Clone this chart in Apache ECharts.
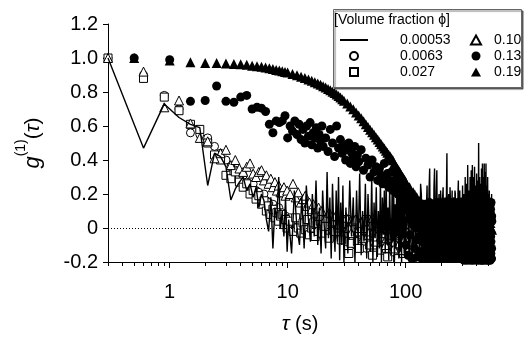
<!DOCTYPE html>
<html><head><meta charset="utf-8">
<script src="https://cdn.jsdelivr.net/npm/echarts@6/dist/echarts.min.js"></script>
<style>html,body{margin:0;padding:0;background:#fff}#c{width:524px;height:340px}</style>
</head><body><div id="c"></div>
<script>
// ---- axis ticks ----
const tauMajorTicks = [1, 10, 100];
const tauMinorTicks = [0.3,0.4,0.5,0.6,0.7,0.8,0.9,2,3,4,5,6,7,8,9,20,30,40,50,60,70,80,90,200,300,400,500];
const seriesNames = ['0.00053', '0.0063', '0.027', '0.10', '0.13', '0.19'];

// ---- phi = 0.00053 (solid line) ----
const phi00053 = [
[0.3,1.0],[0.6,0.47],[0.9,0.73],[1.2,0.65],[1.5,0.61],[1.8,0.59],[2.1,0.25],[2.4,0.44],[2.7,0.42],[3.0,0.36],
[3.3,0.165],[3.6,0.23],[3.9,0.27],[4.2,0.30],[4.5,0.22],[4.8,0.26],[5.1,0.18],[5.4,0.24],[5.7,0.12],[6.0,0.20],
[6.3,0.16],[6.6,0.05],[6.9,-0.02],[7.2,0.18],[7.5,-0.12],[7.8,0.12],[8.1,0.05],[8.4,0.30],[8.7,0.0],[9.0,0.1],
[9.3,-0.05],[9.6,0.18],[9.9,-0.14],
[10.2,0.05],[10.8,-0.15],[11.4,0.22],[12.0,0.0],[12.6,-0.1],[13.2,0.18],[13.8,-0.12],[14.4,0.25],[15.0,0.05],[15.6,-0.08],
[16.2,0.2],[16.8,-0.05],[17.4,0.28],[18.0,-0.1],[18.6,0.12],[19.2,-0.15],[19.8,0.22],[20.4,0.02],[21.0,-0.12],[21.6,0.33],
[22.2,-0.06],[22.8,0.18],[23.4,-0.18],[24.0,0.26],[24.6,0.0],[25.2,-0.14],[25.8,0.22],[26.4,-0.08],[27.0,0.3],[27.6,-0.19],
[28.2,0.15],[28.8,-0.1],[29.4,0.25],[30.0,-0.2],
[31.2,0.12],[32.4,-0.15],[33.6,0.28],[34.8,-0.05],[36.0,0.18],[37.2,-0.2],[38.4,0.22],[39.6,-0.1],[40.8,0.32],[42.0,-0.16],
[43.2,0.1],[44.4,-0.08],[45.6,0.26],[46.8,-0.18],[48.0,0.2],[49.2,0.0],[50.4,-0.14],[51.6,0.3],[52.8,-0.2],[54.0,0.15],
[55.2,-0.06],[56.4,0.24],[57.6,-0.17],[58.8,0.1],[60.0,-0.12],[61.2,0.28],[62.4,-0.2],[63.6,0.18],[64.8,-0.04],[66.0,0.22],
[67.2,-0.15],[68.4,0.3],[69.6,-0.1],[70.8,0.12],[72.0,-0.19],[73.2,0.25],[74.4,0.0],[75.6,-0.16],[76.8,0.2],[78.0,-0.08],
[79.2,0.27],[80.4,-0.2],[81.6,0.14],[82.8,-0.12],[84.0,0.23],[85.2,-0.05],[86.4,0.3],[87.6,-0.18],[88.8,0.16],[90.0,-0.14],
[91.2,0.2],[92.4,-0.2],[93.6,0.26],[94.8,-0.06],[96.0,0.18],[97.2,-0.15],[98.4,0.24],[99.6,-0.1],
[100,-0.15],[102,0.08],[104,0.18],[106,-0.1],[108,-0.2],[110,0.2],[112,0.1],[114,-0.16],[116,-0.12],[118,0.05],
[120,0.22],[122,-0.2],[124,-0.18],[126,0.1],[128,0.15],[130,-0.08],[132,-0.2],[134,0.26],[136,0.2],[138,-0.18],
[140,-0.1],[142,0.16],[144,0.12],[146,-0.2],[148,-0.19],[150,0.1],[152,0.25],[154,-0.06],[156,-0.14],[158,0.22],
[160,0.35],[162,-0.17],[164,-0.2],[166,0.12],[168,0.16],[170,-0.2],[172,-0.12],[174,0.24],[176,0.35],[178,-0.1],
[180,-0.18],[182,0.2],[184,0.34],[186,-0.15],[188,-0.2],[190,0.1],[192,0.2],[194,-0.2],[196,-0.15],[198,0.22],
[200,0.14],[202,-0.12],[204,-0.2],[206,0.18],[208,0.24],[210,-0.18],[212,-0.1],[214,0.12],[216,0.18],[218,-0.2],
[220,-0.2],[222,0.2],[224,0.44],[226,-0.12],[228,-0.16],[230,0.15],[232,0.2],[234,-0.2],[236,-0.2],[238,0.24],
[240,0.15],[242,-0.15],[244,-0.12],[246,0.1],[248,0.22],[250,-0.2],[252,-0.2],[254,0.16],[256,0.18],[258,-0.1],
[260,-0.14],[262,0.22],[264,0.2],[266,-0.18],[268,-0.2],[270,0.12],[272,0.16],[274,-0.2],[276,-0.1],[278,0.2],
[280,0.28],[282,-0.15],[284,-0.2],[286,0.1],[288,0.22],[290,-0.2],[292,-0.17],[294,0.14],[296,0.18],[298,-0.2],
[300,-0.2],[304,0.25],[308,-0.13],[312,0.2],[316,-0.2],[320,0.3],[324,-0.15],[328,0.26],[332,-0.2],[336,0.37],
[340,-0.12],[344,0.22],[348,-0.2],[352,0.3],[356,-0.16],[360,0.34],[364,-0.2],[368,0.37],[372,-0.14],[376,0.3],
[380,-0.2],[384,0.36],[388,-0.1],[392,0.25],[396,-0.2],[400,0.32],[404,-0.17],[408,0.28],[412,-0.2],[416,0.5],
[420,-0.15],[424,0.3],[428,-0.2],[432,0.26],[436,-0.12],[440,0.35],[444,-0.2],[448,0.38],[452,-0.16],[456,0.3],
[460,-0.2],[464,0.38],[468,-0.14],[472,0.33],[476,-0.2],[480,0.38],[484,-0.18],[488,0.25],[492,-0.2],[496,0.3],
[500,-0.15],[504,0.2],[508,-0.2],[512,0.22],[516,-0.1],[520,0.18],[524,-0.2],[528,0.15],[532,-0.12],[536,0.2]
];

// ---- phi = 0.0063 (open circles) ----
const phi0063 = [
[0.3,1.0],[0.6,0.90],[0.9,0.78],[1.2,0.70],[1.5,0.56],[1.8,0.55],[2.1,0.53],[2.4,0.48],[2.7,0.44],[3.0,0.40],
[3.3,0.36],[3.6,0.34],[3.9,0.30],[4.2,0.31],[4.5,0.27],[4.8,0.25],[5.1,0.26],[5.4,0.22],[5.7,0.21],[6.0,0.19],
[6.3,0.2],[6.6,0.16],[6.9,0.15],[7.2,0.13],[7.5,0.14],[7.8,0.11],[8.1,0.10],[8.4,0.12],[8.7,0.08],[9.0,0.09],
[9.3,0.06],[9.6,0.07],[9.9,0.05],
[10.5,0.06],[11.1,0.03],[11.7,0.05],[12.3,0.01],[12.9,0.03],[13.5,-0.01],[14.1,0.02],[14.7,0.0],[15.3,-0.03],[15.9,0.01],
[16.5,-0.02],[17.1,0.02],[17.7,-0.04],[18.3,0.0],[18.9,-0.02],[19.5,0.01],
[21,-0.03],[22.5,0.02],[24,-0.05],[25.5,0.0],[27,-0.02],[28.5,0.03],[30,-0.04],
[31.5,-0.08],[33,0.01],[34.5,0.03],[36,-0.06],[37.5,-0.1],[39,-0.01],[40.5,-0.03],[42,0.02],[43.5,0.04],[45,-0.05],
[46.5,-0.12],[48,0.0],[49.5,-0.02],[51,-0.03],[52.5,0.03],[54,-0.07],[55.5,-0.09],[57,0.01],[58.5,-0.05],[60,-0.04],
[61.5,0.02],[63,-0.02],[64.5,-0.13],[66,-0.08],[67.5,-0.04],[69,0.0],[70.5,0.03],[72,-0.05],[73.5,-0.1],[75,-0.02],
[76.5,-0.06],[78,-0.1],[79.5,0.0],[81,-0.03],[82.5,-0.12],[84,0.01],[85.5,-0.04],[87,-0.06],[88.5,0.02],[90,-0.12],
[91.5,-0.08],[93,-0.02],[94.5,-0.14],[96,-0.07],[97.5,-0.03],[99,0.0],[102,-0.09],[105,-0.04]
];

// ---- phi = 0.027 (open squares) ----
const phi027 = [
[0.3,1.0],[0.6,0.88],[0.9,0.77],[1.2,0.69],[1.5,0.61],[1.8,0.58],[2.1,0.50],[2.4,0.43],[2.7,0.40],[3.0,0.31],
[3.3,0.29],[3.6,0.33],[3.9,0.27],[4.2,0.24],[4.5,0.26],[4.8,0.20],[5.1,0.22],[5.4,0.17],[5.7,0.19],[6.0,0.14],
[6.3,0.16],[6.6,0.10],[6.9,0.13],[7.2,0.08],[7.5,0.11],[7.8,0.06],[8.1,0.09],[8.4,0.04],[8.7,0.07],[9.0,0.08],
[9.3,0.02],[9.6,0.05],[9.9,0.0],
[10.5,0.04],[11.1,-0.02],[11.7,0.06],[12.3,0.0],[12.9,-0.03],[13.5,0.03],[14.1,-0.01],[14.7,0.05],[15.3,-0.04],[15.9,0.0],
[16.5,0.03],[17.1,-0.05],[17.7,0.02],[18.3,-0.02],[18.9,0.04],[19.5,-0.03],
[21,0.01],[22.5,-0.06],[24,0.03],[25.5,-0.02],[27,0.0],[28.5,-0.07],[30,0.02],
[31.5,0.05],[33,-0.15],[34.5,-0.09],[36,0.04],[37.5,0.0],[39,-0.08],[40.5,-0.12],[42,-0.01],[43.5,-0.04],[45,0.03],
[46.5,0.05],[48,-0.06],[49.5,-0.1],[51,-0.02],[52.5,-0.16],[54,0.02],[55.5,0.0],[57,-0.1],[58.5,-0.06],[60,-0.03],
[61.5,-0.13],[63,0.01],[64.5,0.03],[66,-0.05],[67.5,-0.08],[69,-0.12],[70.5,-0.17],[72,-0.02],[73.5,-0.04],[75,0.02],
[76.5,0.01],[78,-0.07],[79.5,-0.11],[81,-0.14],[82.5,-0.06],[84,-0.04],[85.5,-0.18],[87,0.0],[88.5,-0.02],[90,-0.09],
[91.5,-0.13],[93,-0.05],[94.5,0.0],[96,-0.15],[97.5,-0.09],[99,-0.03],[102,-0.08],[105,-0.12]
];

// ---- phi = 0.10 (open triangles) ----
const phi010 = [
[0.3,1.0],[0.6,0.92],[0.9,0.71],[1.2,0.75],[1.5,0.615],[1.8,0.53],[2.1,0.51],[2.4,0.41],[2.7,0.44],[3.0,0.46],
[3.3,0.37],[3.6,0.40],[3.9,0.35],[4.2,0.33],[4.5,0.36],[4.8,0.38],[5.1,0.32],[5.4,0.30],[5.7,0.33],[6.0,0.34],
[6.3,0.28],[6.6,0.31],[6.9,0.26],[7.2,0.29],[7.5,0.24],[7.8,0.27],[8.1,0.22],[8.4,0.25],[8.7,0.21],[9.0,0.21],
[9.3,0.24],[9.6,0.19],[9.9,0.22],
[10.5,0.20],[11.1,0.26],[11.7,0.18],[12.3,0.21],[12.9,0.15],[13.5,0.17],[14.1,0.19],[14.7,0.13],[15.3,0.15],[15.9,0.11],
[16.5,0.14],[17.1,0.09],[17.7,0.11],[18.3,0.12],[18.9,0.07],[19.5,0.1],
[21,0.06],[22.5,0.09],[24,0.04],[25.5,0.07],[27,0.02],[28.5,0.05],[30,0.03],
[31.5,0.06],[33,0.0],[34.5,-0.03],[36,0.04],[37.5,0.05],[39,-0.02],[40.5,0.0],[42,0.03],[43.5,-0.06],[45,0.0],
[46.5,0.04],[48,-0.04],[49.5,-0.02],[51,0.02],[52.5,0.06],[54,-0.01],[55.5,-0.08],[57,-0.05],[58.5,0.02],[60,0.01],
[61.5,-0.05],[63,-0.03],[64.5,0.05],[66,0.0],[67.5,-0.1],[69,-0.06],[70.5,0.0],[72,-0.01],[73.5,-0.06],[75,-0.04],
[76.5,0.03],[78,0.02],[79.5,-0.12],[81,-0.08],[82.5,-0.03],[84,-0.02],[85.5,0.02],[87,-0.05],[88.5,-0.09],[90,0.0],
[91.5,-0.04],[93,-0.1],[94.5,-0.13],[96,-0.03],[97.5,0.0],[99,-0.06],[102,-0.02],[105,-0.08]
];

// ---- phi = 0.13 (filled circles) ----
const phi013 = [
[0.5,1.0],[1.0,0.99],[1.5,0.745],[2.0,0.75],[2.5,0.835],[3.0,0.745],[3.5,0.74],[4.0,0.77],[4.5,0.78],[5.0,0.70],
[5.5,0.71],[6.0,0.705],[6.5,0.685],[7.0,0.61],[7.5,0.56],[8.0,0.63],[8.5,0.62],[9.0,0.63],[9.5,0.66],[10.0,0.53],
[10.5,0.6],[11,0.57],[11.5,0.63],[12,0.55],[12.5,0.61],[13,0.52],[13.5,0.58],[14,0.5],[14.5,0.6],[15,0.54],
[15.5,0.62],[16,0.49],[16.5,0.56],[17,0.53],[17.5,0.59],[18,0.47],[18.5,0.55],[19,0.51],[19.5,0.6],[20,0.48],
[21,0.53],[22,0.45],[23,0.58],[24,0.5],[25,0.42],[26,0.6],[27,0.47],[28,0.52],[29,0.44],[30,0.49],
[31,0.4],[32,0.46],[33,0.5],[34,0.38],[35,0.44],[36,0.41],[37,0.48],[38,0.36],[39,0.43],[40,0.39],
[42,0.46],[44,0.34],[46,0.41],[48,0.37],[50,0.3],[52,0.4],[54,0.33],[56,0.36],[58,0.28],[60,0.35],
[62,0.31],[64,0.26],[66,0.38],[68,0.29],[70,0.32],[72,0.24],[74,0.28],[76,0.33],[78,0.22],[80,0.27],
[82,0.25],[84,0.3],[86,0.2],[88,0.26],[90,0.22],[92,0.18],[94,0.24],[96,0.2],[98,0.16],[100,0.22],
[102,0.18],[104,0.15],[106,0.1],[108,0.2],[110,0.14],[112,0.12],[114,0.06],[116,0.17],[118,0.12],[120,0.08],
[122,0.0],[124,0.14],[126,0.09],[128,0.05],[130,-0.05],[132,0.12],[134,0.07],[136,0.02],[138,-0.08],[140,0.1],
[142,0.12],[144,-0.03],[146,-0.12],[148,0.08],[150,0.03],[152,-0.06],[154,0.11],[156,0.06],[158,-0.15],[160,-0.1],
[162,0.0],[164,0.1],[166,0.14],[168,-0.04],[170,-0.11],[172,0.05],[174,0.08],[176,-0.13],[178,-0.17],[180,0.12],
[182,0.04],[184,-0.08],[186,0.13],[188,0.02],[190,-0.06],[192,-0.16],[194,0.1],[196,0.08],[198,-0.18],[200,-0.02],
[202,0.06],[204,0.13],[206,0.0],[208,-0.1],[210,0.14],[212,0.04],[214,-0.13],[216,-0.17],[218,0.08],[220,0.1],
[222,-0.02],[224,-0.06],[226,-0.16],[228,0.14],[230,0.11],[232,-0.12],[234,-0.08],[236,0.0],[238,0.15],[240,-0.18],
[242,-0.12],[244,0.09],[246,0.03],[248,-0.04],[250,-0.18],[252,0.15],[254,0.09],[256,-0.14],[258,0.0],[260,0.05],
[262,-0.15],[264,-0.09],[266,0.13],[268,0.12],[270,-0.04],[272,-0.18],[274,0.1],[276,0.02],[278,-0.16],[280,-0.06],
[282,0.05],[284,0.14],[286,-0.1],[288,-0.12],[290,0.15],[292,0.07],[294,-0.03],[296,-0.17],[298,-0.18],[300,0.1],
[302,0.12],[304,-0.02],[306,-0.14],[308,0.15],[310,0.04],[312,-0.1],[314,0.13],[316,0.03],[318,-0.08],[320,-0.18],
[322,-0.17],[324,0.12],[326,0.09],[328,-0.07],[330,-0.12],[332,0.06],[334,0.15],[336,-0.14],[338,0.0],[340,0.14],
[342,-0.18],[344,-0.04],[346,0.1],[348,0.08],[350,-0.07],[352,-0.18],[354,0.14],[356,0.11],[358,-0.15],[360,-0.1],
[362,0.06],[364,0.02],[366,-0.02],[368,-0.15],[370,-0.18],[372,0.13],[374,0.11],[376,-0.06],[378,-0.12],[380,0.07],
[382,0.15],[384,-0.18],[386,0.0],[388,0.14],[390,-0.16],[392,-0.11],[394,0.08],[396,0.03],[398,-0.08],[400,-0.16],
[402,0.14],[404,0.1],[406,-0.18],[408,-0.05],[410,0.02],[412,0.15],[414,0.1],[416,-0.13],[418,-0.1],[420,0.06],
[422,0.15],[424,-0.18],[426,-0.15],[428,0.11],[430,0.04],[432,-0.08],[434,-0.05],[436,0.14],[438,0.12],[440,-0.15],
[442,-0.18],[444,0.04],[446,0.08],[448,-0.1],[450,-0.12],[452,0.12],[454,0.15],[456,-0.18],[458,0.0],[460,0.07],
[462,-0.16],[464,-0.05],[466,0.1],[468,0.15],[470,-0.07],[472,-0.14],[474,0.14],[476,0.09],[478,-0.13],[480,-0.18],
[482,0.06],[484,0.02],[486,-0.18],[488,-0.09],[490,0.11],[492,0.13],[494,-0.02],[496,-0.16],[498,0.15],[500,0.08],
[502,-0.14],[504,-0.04],[506,0.03],[508,0.12],[510,-0.1],[512,-0.18],[514,0.13],[516,0.05],[518,-0.17],[520,-0.1],
[522,0.09],[524,0.14],[526,-0.05],[528,-0.15],[530,0.15],[532,0.06],[534,-0.18],[536,-0.12],[538,0.04],
[101,-0.1],[103,0.12],[105,-0.16],[107,0.05],[109,-0.04],[111,0.16],[113,-0.18],[115,0.02],[117,0.1],[119,-0.12],
[121,0.13],[123,-0.07],[125,-0.17],[127,0.04],[129,0.15],[131,-0.14],[133,0.0],[135,0.11],[137,-0.18],[139,0.06],
[141,-0.05],[143,0.14],[145,-0.16],[147,0.01],[149,0.12],[151,-0.11],[153,-0.18],[155,0.09],[157,0.0],[159,0.15],
[161,-0.13],[163,-0.06],[165,0.05],[167,-0.18],[169,0.12],[171,0.02],[173,-0.15],[175,0.14],[177,-0.02],[179,-0.1],
[181,0.08],[183,-0.18],[185,0.15],[187,-0.12],[189,0.04],[191,0.11],[193,-0.08],[195,-0.17],[197,0.14],[199,0.0],
[201,-0.14],[203,0.09],[205,-0.05],[207,0.15],[209,-0.18],[211,0.02],[213,0.12],[215,-0.1],[217,-0.16],[219,0.05],
[221,0.14],[223,-0.13],[225,0.0],[227,0.1],[229,-0.18],[231,-0.04],[233,0.15],[235,-0.1],[237,0.06],[239,-0.16],
[241,0.12],[243,-0.02],[245,-0.18],[247,0.14],[249,0.03],[251,-0.12],[253,0.09],[255,-0.06],[257,0.15],[259,-0.17],
[261,0.01],[263,0.12],[265,-0.14],[267,-0.03],[269,0.14],[271,-0.18],[273,0.07],[275,-0.09],[277,0.15],[279,-0.13],
[281,0.0],[283,-0.17],[285,0.11],[287,0.05],[289,-0.08],[291,-0.15],[293,0.14],[295,0.02],[297,-0.12],[299,0.1],
[301,-0.17],[305,-0.08],[309,0.1],[313,-0.19],[317,-0.12],[321,0.05],[325,-0.16],[329,-0.03],[333,-0.19],[337,0.12],
[341,-0.1],[345,-0.18],[349,0.0],[353,-0.14],[357,-0.19],[361,0.13],[365,-0.07],[369,-0.17],[373,0.04],[377,-0.19],
[381,-0.11],[385,0.1],[389,-0.18],[393,-0.04],[397,-0.15],[401,0.12],[405,-0.19],[409,-0.09],[413,0.06],[417,-0.17],
[421,-0.12],[425,0.13],[429,-0.19],[433,-0.02],[437,-0.16],[441,0.09],[445,-0.19],[449,-0.07],[453,0.03],[457,-0.15],
[461,-0.19],[465,0.12],[469,-0.1],[473,-0.18],[477,0.0],[481,-0.14],[485,0.14],[489,-0.19],[493,-0.06],[497,-0.17],
[501,0.1],[505,-0.19],[509,-0.12],[513,0.04],[517,-0.16],[521,-0.19],[525,0.11],[529,-0.08],[533,-0.18],[537,0.07]
];

// ---- phi = 0.19 (filled triangles) ----
const phi019 = [
[0.5,1.0],[1.0,0.985],[1.5,0.975],[2.0,0.97],[2.5,0.97],[3.0,0.967],[3.5,0.965],[4.0,0.963],[4.5,0.96],[5.0,0.955],
[5.5,0.952],[6.0,0.948],[6.5,0.944],[7.0,0.94],[7.5,0.935],[8.0,0.93],[8.5,0.926],[9.0,0.922],[9.5,0.918],[10,0.914],
[11,0.906],[12,0.898],[13,0.89],[14,0.882],[15,0.874],[16,0.866],[17,0.858],[18,0.85],[19,0.842],[20,0.834],
[21,0.826],[22,0.818],[23,0.81],[24,0.802],[25,0.794],[26,0.785],[27,0.776],[28,0.767],[29,0.758],[30,0.749],
[32,0.732],[34,0.715],[36,0.698],[38,0.68],[40,0.662],[42,0.645],[44,0.628],[46,0.611],[48,0.594],[50,0.578],
[52,0.563],[54,0.548],[56,0.534],[58,0.52],[60,0.506],[62,0.493],[64,0.48],[66,0.467],[68,0.455],[70,0.443],
[72,0.431],[74,0.42],[76,0.409],[78,0.398],[80,0.38],[82,0.368],[84,0.356],[86,0.345],[88,0.334],[90,0.323],
[92,0.312],[94,0.302],[96,0.292],[98,0.282],[100,0.272],
[108,0.24],[116,0.21],[124,0.183],[132,0.16],[140,0.14],[148,0.122],[156,0.106],[164,0.092],[172,0.08],[180,0.07],
[188,0.06],[196,0.052],[204,0.045],[212,0.04],[220,0.035],[228,0.03],[236,0.027],[244,0.024],[252,0.021],[260,0.019],
[268,0.03],[276,-0.01],[284,0.04],[292,0.0],[300,0.03],[308,-0.02],[316,0.02],[324,0.05],[332,-0.01],[340,0.03],
[348,0.0],[356,-0.03],[364,0.02],[372,0.04],[380,-0.02],[388,0.01],[396,0.03],[404,-0.03],[412,0.0],[420,0.04],
[428,-0.02],[436,0.02],[444,-0.04],[452,0.01],[460,0.03],[468,-0.02],[476,0.0],[484,0.04],[492,-0.03],[500,0.01],
[508,0.02],[516,-0.02],[524,0.03],[532,0.0],[540,-0.01]
];

const FONT = '"Liberation Sans", Arial, Helvetica, sans-serif';
const chart = echarts.init(document.getElementById('c'), null, {renderer: 'canvas'});

const openStyle = {color: '#fff', borderColor: '#000', borderWidth: 1, opacity: 1};
const fillStyle = {color: '#000', borderColor: '#000', borderWidth: 0, opacity: 1};

const option = {
  animation: false,
  backgroundColor: '#fff',
  grid: {left: 108, right: 32, top: 24, bottom: 78, containLabel: false},
  xAxis: [
    {
      type: 'log', logBase: 10, min: 0.3, max: 540, position: 'bottom',
      name: '{t|τ} {n|(s)}', nameLocation: 'middle', nameGap: 52,
      nameTextStyle: {color: '#000', fontFamily: FONT, fontSize: 20,
        rich: {t: {fontStyle: 'italic', fontSize: 21, fontFamily: FONT, color: '#000'},
               n: {fontSize: 20, fontFamily: FONT, color: '#000'}}},
      axisLine: {show: true, onZero: false, lineStyle: {color: '#000', width: 1}},
      axisTick: {show: true, inside: false, length: 6, customValues: tauMajorTicks, lineStyle: {color: '#000', width: 1}},
      axisLabel: {show: true, customValues: tauMajorTicks, margin: 20, color: '#000', fontFamily: FONT, fontSize: 20,
                  formatter: v => String(Math.round(v))},
      splitLine: {show: false}, minorTick: {show: false}
    },
    {
      type: 'log', logBase: 10, min: 0.3, max: 540, position: 'bottom', offset: 0,
      axisLine: {show: false, onZero: false},
      axisTick: {show: true, inside: false, length: 4, customValues: tauMinorTicks, lineStyle: {color: '#000', width: 1}},
      axisLabel: {show: false}, splitLine: {show: false}
    }
  ],
  yAxis: {
    type: 'value', min: -0.2, max: 1.2, interval: 0.2,
    name: '{g|g}{s|(1)}{n|(}{t|τ}{n|)}', nameLocation: 'middle', nameRotate: 90, nameGap: 64,
    nameTextStyle: {color: '#000', fontFamily: FONT,
      rich: {g: {fontStyle: 'italic', fontSize: 22, fontFamily: FONT, color: '#000', verticalAlign: 'bottom', lineHeight: 30},
             s: {fontSize: 14, fontFamily: FONT, color: '#000', verticalAlign: 'top', lineHeight: 30},
             n: {fontSize: 21, fontFamily: FONT, color: '#000', verticalAlign: 'bottom', lineHeight: 30},
             t: {fontStyle: 'italic', fontSize: 21, fontFamily: FONT, color: '#000', verticalAlign: 'bottom', lineHeight: 30}}},
    axisLine: {show: true, onZero: false, lineStyle: {color: '#000', width: 1}},
    axisTick: {show: true, inside: false, length: 5, lineStyle: {color: '#000', width: 1}},
    axisLabel: {margin: 10, color: '#000', fontFamily: FONT, fontSize: 20,
                formatter: v => Math.abs(v) < 1e-9 ? '0' : v.toFixed(1)},
    splitLine: {show: false}
  },
  title: {
    text: '[Volume fraction ϕ]', left: 334, top: 13, padding: 0, z: 60,
    textStyle: {fontFamily: FONT, fontSize: 14, fontWeight: 'normal', color: '#000'}
  },
  graphic: [{
    type: 'rect', z: 50, left: 333, top: 9,
    shape: {width: 188, height: 78},
    style: {fill: '#fff', stroke: '#666', lineWidth: 1, shadowColor: 'rgba(0,0,0,0.55)', shadowOffsetX: 1.5, shadowOffsetY: 1.5, shadowBlur: 1}
  }],
  legend: [
    {
      data: [
        {name: '0.00053', icon: 'path://M0,0 L28,0 L28,2 L0,2 Z', itemStyle: {color: '#000', borderWidth: 0}},
        {name: '0.0063'},
        {name: '0.027', icon: 'path://M0,0 L10,0 L10,10 L0,10 Z'}
      ],
      orient: 'vertical', left: 340, top: 33, padding: 0,
      itemWidth: 28, itemHeight: 8, itemGap: 2, z: 60, selectedMode: false,
      textStyle: {fontFamily: FONT, fontSize: 14, color: '#000', padding: [0, 0, 0, 27]}
    },
    {
      data: ['0.10', '0.13', '0.19'], orient: 'vertical', left: 470, top: 33, padding: 0,
      itemWidth: 10, itemHeight: 9, itemGap: 2, z: 60, selectedMode: false,
      textStyle: {fontFamily: FONT, fontSize: 14, color: '#000', padding: [0, 0, 0, 8]}
    }
  ],
  series: [
    {
      name: seriesNames[0], type: 'line', data: phi00053, symbol: 'none', xAxisIndex: 0,
      lineStyle: {color: '#000', width: 1.4}, itemStyle: {color: '#000'}, clip: true,
      markLine: {silent: true, symbol: 'none', label: {show: false},
        lineStyle: {color: '#000', type: [1, 2], width: 1}, data: [{yAxis: 0}]}
    },
    {name: seriesNames[1], type: 'scatter', data: phi0063, symbol: 'circle', symbolSize: 8, itemStyle: openStyle},
    {name: seriesNames[2], type: 'scatter', data: phi027, symbol: 'rect', symbolSize: 8, itemStyle: openStyle},
    {name: seriesNames[3], type: 'scatter', data: phi010, symbol: 'triangle', symbolSize: 9, itemStyle: openStyle},
    {name: seriesNames[4], type: 'scatter', data: phi013, symbol: 'circle', symbolSize: 9, itemStyle: fillStyle},
    {name: seriesNames[5], type: 'scatter', data: phi019, symbol: 'triangle', symbolSize: 10, itemStyle: fillStyle}
  ]
};
chart.setOption(option);
</script></body></html>
